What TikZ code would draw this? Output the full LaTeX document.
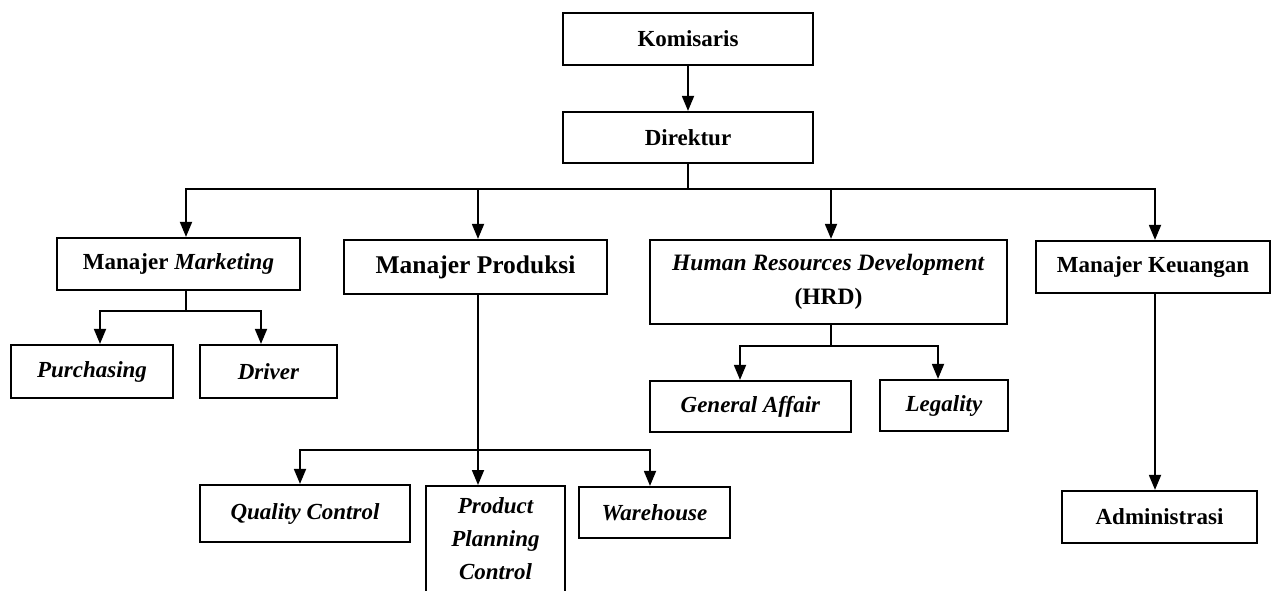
\documentclass[tikz,border=0pt]{standalone}
\usepackage{fontspec}
\setmainfont{Liberation Serif}
\usetikzlibrary{arrows.meta}
\tikzset{
  box/.style={draw, line width=2.2pt, inner sep=0pt, align=center,
    font=\fontsize{23}{33}\selectfont\bfseries},
  conn/.style={line width=1.8pt},
  arr/.style={conn, -{Triangle[width=12pt,length=15pt]}},
}
\begin{document}
\begin{tikzpicture}[x=1pt,y=-1pt]
\useasboundingbox (0,0) rectangle (1272,590);
\clip (0,0) rectangle (1272,590);
% nodes
\node[box, minimum width=250pt, minimum height=52pt] (kom) at (688,39) {Komisaris};
\node[box, minimum width=250pt, minimum height=51pt] (dir) at (688,137.5) {Direktur};
\node[box, minimum width=243pt, minimum height=52pt] (mm) at (178.5,264) {Manajer \textit{Marketing}};
\node[box, minimum width=263pt, minimum height=54pt, font=\fontsize{25.5}{30}\selectfont\bfseries] (mp) at (475.5,267) {Manajer Produksi};
\node[box, minimum width=357pt, minimum height=84pt, font=\fontsize{23.5}{34}\selectfont\bfseries] (hrd) at (828.5,282) {\textit{Human Resources Development}\\(HRD)};
\node[box, minimum width=234pt, minimum height=52pt] (mk) at (1153,267) {Manajer Keuangan};
\node[box, minimum width=162pt, minimum height=53pt] (pur) at (92,371.5) {\textit{Purchasing}};
\node[box, minimum width=137pt, minimum height=53pt] (drv) at (268.5,371.5) {\textit{Driver}};
\node[box, minimum width=201pt, minimum height=51pt] (ga) at (750.5,406.5) {\textit{General Affair}};
\node[box, minimum width=128pt, minimum height=51pt] (leg) at (944,405.5) {\textit{Legality}};
\node[box, minimum width=210pt, minimum height=57pt] (qc) at (305,513.5) {\textit{Quality Control}};
\node[box, minimum width=139pt, minimum height=150pt, anchor=north] (ppc) at (495.5,485) {};
\node[align=center, inner sep=0pt, anchor=north, font=\fontsize{23}{33}\selectfont\bfseries\itshape] (ppct) at (495.5,497) {Product\\Planning\\Control};
\node[box, minimum width=151pt, minimum height=51pt] (wh) at (654.5,512.5) {\textit{Warehouse}};
\node[box, minimum width=195pt, minimum height=52pt] (adm) at (1159.5,517) {Administrasi};
% connectors
\draw[arr] (kom.south) -- (dir.north);
\coordinate (bar) at ([yshift=-25pt]dir.south);
\draw[conn] (dir.south) -- (bar);
\draw[arr] (bar) -| ([xshift=7.5pt]mm.north);
\draw[arr] (bar) -| ([xshift=2.5pt]mp.north);
\draw[arr] (bar) -| ([xshift=2.5pt]hrd.north);
\draw[arr] (bar) -| ([xshift=2pt]mk.north);
% marketing branch
\coordinate (mmb) at ([xshift=7.5pt,yshift=-20pt]mm.south);
\draw[conn] ([xshift=7.5pt]mm.south) -- (mmb);
\draw[arr] (mmb) -| ([xshift=8pt]pur.north);
\draw[arr] (mmb) -| ([xshift=-7.5pt]drv.north);
% HRD branch
\coordinate (hrdb) at ([xshift=2.5pt,yshift=-21pt]hrd.south);
\draw[conn] ([xshift=2.5pt]hrd.south) -- (hrdb);
\draw[arr] (hrdb) -| ([xshift=-10.5pt]ga.north);
\draw[arr] (hrdb) -| ([xshift=-6pt]leg.north);
% produksi branch
\coordinate (mpb) at ([xshift=2.5pt,yshift=-155pt]mp.south);
\draw[conn] ([xshift=2.5pt]mp.south) -- (mpb);
\draw[arr] (mpb) -| ([xshift=-5pt]qc.north);
\draw[arr] (mpb) -- ([xshift=-17.5pt]ppc.north);
\draw[arr] (mpb) -| ([xshift=-4.5pt]wh.north);
% keuangan
\draw[arr] ([xshift=2pt]mk.south) -- ([xshift=-4.5pt]adm.north);
\end{tikzpicture}
\end{document}
